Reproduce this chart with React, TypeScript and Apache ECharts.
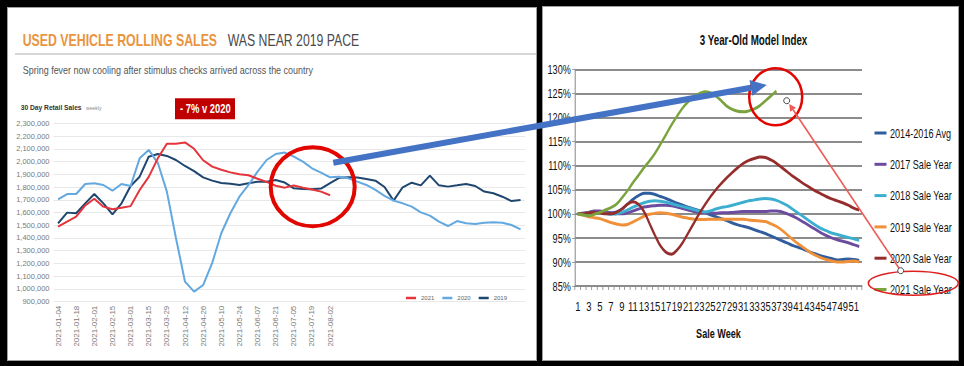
import React, { useEffect, useRef } from 'react';
import * as echarts from 'echarts';

// ---------- Left chart: 30 Day Retail Sales (weekly) ----------
const FIRST_WEEK_UTC = Date.UTC(2021, 0, 4);
const WEEK_COUNT = 52;
const LAST_LABELED_WEEK = '2021-08-02';
const weekDates: string[] = Array.from({ length: WEEK_COUNT }, (_, i) =>
  new Date(FIRST_WEEK_UTC + i * 7 * 86400000).toISOString().slice(0, 10)
);

const sales2021 = [
  1489000, 1528000, 1567000, 1655000, 1708000, 1646000, 1625000, 1638000, 1650000, 1777000,
  1880000, 2025000, 2140000, 2140000, 2150000, 2100000, 2010000, 1960000, 1935000, 1915000,
  1900000, 1892000, 1865000, 1840000, 1810000, 1795000, 1812000, 1795000, 1780000, 1764000,
  1735000,
];
const sales2020 = [
  1703000, 1745000, 1745000, 1824000, 1829000, 1816000, 1771000, 1824000, 1808000, 2025000,
  2091000, 1990000, 1764000, 1400000, 1057000, 979000, 1031000, 1205000, 1437000, 1594000,
  1724000, 1816000, 1921000, 2012000, 2059000, 2070000, 2038000, 1999000, 1947000, 1913000,
  1876000, 1881000, 1868000, 1842000, 1816000, 1777000, 1730000, 1693000, 1672000, 1646000,
  1601000, 1575000, 1528000, 1494000, 1533000, 1515000, 1510000, 1520000, 1523000, 1520000,
  1502000, 1468000,
];
const sales2019 = [
  1515000, 1599000, 1594000, 1672000, 1745000, 1672000, 1585000, 1672000, 1808000, 1881000,
  2038000, 2059000, 2044000, 2012000, 1965000, 1925000, 1876000, 1850000, 1832000, 1825000,
  1816000, 1830000, 1842000, 1842000, 1855000, 1835000, 1790000, 1785000, 1782000, 1788000,
  1830000, 1872000, 1877000, 1874000, 1863000, 1850000, 1800000, 1693000, 1798000, 1834000,
  1813000, 1889000, 1813000, 1803000, 1813000, 1824000, 1808000, 1764000, 1751000, 1724000,
  1690000, 1698000,
];
const salesSeriesNames = ['2021', '2020', '2019'];

// ---------- Right chart: 3 Year-Old Model Index ----------
const saleWeeks: string[] = Array.from({ length: 52 }, (_, i) => String(i + 1));
const idxAvg1416 = [
  100, 100.1, 100.3, 100.4, 100.4, 100.3, 100.2, 100.4, 101.0, 102.0,
  103.0, 103.8, 104.3, 104.3, 104.0, 103.6, 103.2, 102.7, 102.2, 101.8,
  101.4, 101.0, 100.7, 100.3, 99.8, 99.4, 99.0, 98.6, 98.1, 97.7,
  97.4, 97.1, 96.7, 96.3, 95.9, 95.4, 94.9, 94.4, 93.9, 93.4,
  93.0, 92.6, 92.1, 91.7, 91.3, 91.0, 90.7, 90.4, 90.5, 90.6,
  90.5, 90.3,
];
const idx2017 = [
  100, 100.1, 100.3, 100.6, 100.6, 100.4, 100.2, 100.0, 100.0, 100.2,
  100.6, 101.0, 101.4, 101.6, 101.7, 101.8, 101.8, 101.7, 101.4, 101.1,
  100.8, 100.5, 100.3, 100.2, 100.2, 100.1, 100.2, 100.2, 100.3, 100.4,
  100.5, 100.5, 100.5, 100.5, 100.5, 100.6, 100.6, 100.4, 100.0, 99.5,
  98.9, 98.2, 97.5, 96.8, 96.1, 95.5, 95.0, 94.6, 94.3, 94.0,
  93.6, 93.2,
];
const idx2018 = [
  100, 100, 100.1, 100.2, 100.3, 100.1, 99.9, 100.0, 100.3, 100.8,
  101.4, 101.9, 102.3, 102.6, 102.7, 102.6, 102.4, 102.1, 101.8, 101.5,
  101.2, 100.9, 100.6, 100.4, 100.6, 101.0, 101.3, 101.5, 101.8, 102.1,
  102.4, 102.7, 102.9, 103.1, 103.2, 103.1, 102.8, 102.3, 101.7, 100.9,
  100.1, 99.3, 98.5, 97.7, 97.0, 96.5, 96.0, 95.7, 95.4, 95.1,
  94.8, 94.5,
];
const idx2019 = [
  100, 99.7, 99.4, 99.2, 99.0, 98.6, 98.2, 97.9, 97.7, 97.8,
  98.3, 98.9, 99.5, 99.9, 100.1, 100.2, 100.1, 99.9, 99.6, 99.3,
  99.1, 98.9, 98.8, 98.8, 98.9, 98.9, 98.9, 98.9, 98.9, 98.9,
  98.9, 98.7, 98.6, 98.5, 98.4, 97.9, 97.4, 96.6, 95.6, 94.6,
  93.7, 92.9, 92.1, 91.4, 90.9, 90.5, 90.2, 90.0, 90.0, 90.1,
  90.2, 90.0,
];
const idx2020 = [
  100, 100, 100.2, 100.3, 100.2, 100.0, 100.0, 100.3, 101.0, 102.0,
  102.5, 102.0, 100.5, 98.0, 95.5, 93.3, 92.0, 91.6, 92.5, 94.0,
  96.0, 98.0, 100.0, 101.8, 103.5, 105.0, 106.3, 107.5, 108.6, 109.6,
  110.5, 111.1, 111.5, 111.8, 111.7, 111.2, 110.5, 109.6, 108.7, 107.8,
  107.0, 106.2, 105.5, 104.8, 104.2, 103.6, 103.1, 102.7, 102.3, 101.8,
  101.2, 100.8,
];
const idx2021 = [
  100, 99.8, 99.6, 99.9, 100.3, 100.8, 101.3, 102.0, 103.3, 104.8,
  106.5, 108.0, 109.6, 111.0, 112.6, 114.5, 116.5, 118.5, 120.3, 122.0,
  123.3, 124.3, 125.0, 125.4, 125.2, 124.5, 123.5, 122.4, 121.7, 121.3,
  121.2, 121.4, 121.8, 122.5, 123.5, 124.5, 125.5,
];
const indexSeriesNames = [
  '2014-2016 Avg', '2017 Sale Year', '2018 Sale Year', '2019 Sale Year', '2020 Sale Year', '2021 Sale Year',
];
const indexSeriesData = [idxAvg1416, idx2017, idx2018, idx2019, idx2020, idx2021];

// ---------- Styles ----------
const SANS = "'Liberation Sans', Arial, sans-serif";
const salesColors = ['#E5343A', '#63A9E0', '#1F466F'];
const indexColors = ['#305D9E', '#6B4C9E', '#3CAED0', '#F0913A', '#952D2D', '#7AA33E'];

// The right panel is drawn in its own chart, condensed horizontally like the original picture.
const RIGHT_X0 = 543;
const RIGHT_SCALE = 0.7;
const RIGHT_W = (964 - RIGHT_X0) / RIGHT_SCALE;
const rx = (X: number) => (X - RIGHT_X0) / RIGHT_SCALE;

function measure(text: string, size: number, weight: string, family: string) {
  const ctx = document.createElement('canvas').getContext('2d')!;
  ctx.font = `${weight} ${size}px ${family}`;
  return ctx.measureText(text).width;
}

function fitText(text: string, left: number, cy: number, width: number, size: number, weight: string, color: string, family = SANS) {
  const s = width / measure(text, size, weight, family);
  return {
    type: 'text', x: left, y: cy, scaleX: s, z: 20,
    style: {
      text, fontSize: size, fontWeight: weight, fontFamily: family, fill: color,
      align: 'left', verticalAlign: 'middle', textAlign: 'left', textVerticalAlign: 'middle',
    },
  };
}

function arrow(x1: number, y1: number, x2: number, y2: number, color: string, width: number, headLen: number, headHalf: number) {
  const dx = x2 - x1, dy = y2 - y1;
  const len = Math.hypot(dx, dy);
  const ux = dx / len, uy = dy / len;
  const nx = -uy, ny = ux;
  const bx = x2 - ux * headLen, by = y2 - uy * headLen;
  return [
    { type: 'line', z: 50, shape: { x1, y1, x2: bx, y2: by }, style: { stroke: color, lineWidth: width } },
    {
      type: 'polygon', z: 50,
      shape: { points: [[x2, y2], [bx + nx * headHalf, by + ny * headHalf], [bx - nx * headHalf, by - ny * headHalf]] },
      style: { fill: color },
    },
  ];
}

export default function App() {
  const mainRef = useRef<HTMLDivElement>(null);
  const rightRef = useRef<HTMLDivElement>(null);

  useEffect(() => {
    document.body.style.margin = '0';
    const right = echarts.init(rightRef.current!, undefined, { renderer: 'svg' });
    const main = echarts.init(mainRef.current!, undefined, { renderer: 'svg' });
    const lastIdx = weekDates.indexOf(LAST_LABELED_WEEK);

    // ----- right chart -----
    right.setOption({
      animation: false,
      title: {
        text: '3 Year-Old Model Index', left: rx(750), top: 28, textAlign: 'center',
        textStyle: { fontSize: 14, fontWeight: 'bold', color: '#111111', fontFamily: SANS },
      },
      grid: { left: rx(575), top: 69.5, width: 287 / RIGHT_SCALE, height: 216.5, containLabel: false, outerBoundsMode: 'none' },
      xAxis: {
        type: 'category', data: saleWeeks, boundaryGap: true,
        name: 'Sale Week', nameLocation: 'middle', nameGap: 41,
        nameTextStyle: { fontWeight: 'bold', fontSize: 13, fontFamily: SANS, color: '#111111' },
        axisLine: { show: true, lineStyle: { color: '#8C8C8C', width: 1.5 } },
        axisTick: { show: true, interval: 0, length: 4, lineStyle: { color: '#8C8C8C', width: 1.2 } },
        axisLabel: { interval: 1, fontSize: 13.5, color: '#111111', fontFamily: SANS, margin: 13 },
        splitLine: { show: false },
      },
      yAxis: {
        type: 'value', min: 85, max: 130, interval: 5,
        axisLine: { show: true, lineStyle: { color: '#8C8C8C', width: 1.5 } },
        axisTick: { show: true, length: 4, lineStyle: { color: '#8C8C8C' } },
        axisLabel: { formatter: '{value}%', fontSize: 13, color: '#111111', fontFamily: SANS, margin: 6 },
        splitLine: { lineStyle: { color: '#8C8C8C', width: 2 } },
      },
      legend: {
        data: indexSeriesNames, orient: 'vertical', left: rx(871), top: 121, itemWidth: 12 / RIGHT_SCALE, itemHeight: 3,
        icon: 'rect', itemGap: 17.3, selectedMode: false,
        textStyle: { fontSize: 13, color: '#111111', fontFamily: SANS, lineHeight: 14 },
      },
      series: indexSeriesData.map((d, i) => ({
        name: indexSeriesNames[i], type: 'line', data: d,
        showSymbol: false, smooth: 0.35,
        lineStyle: { width: 3, color: indexColors[i] }, itemStyle: { color: indexColors[i] },
      })),
    });

    // ----- left chart + annotations -----
    const salesSeries = [sales2021, sales2020, sales2019].map((d, i) => ({
      name: salesSeriesNames[i], type: 'line', data: d,
      showSymbol: false, smooth: false, z: 5 - i,
      lineStyle: { width: 2, color: salesColors[i] }, itemStyle: { color: salesColors[i] },
    }));

    const graphics: any[] = [
      fitText('USED VEHICLE ROLLING SALES', 22.7, 40.5, 194.6, 16, 'bold', '#E9943F'),
      fitText('WAS NEAR 2019 PACE', 227.7, 40.5, 131.6, 16, 'normal', '#4A4A4A'),
      { type: 'line', z: 20, shape: { x1: 15, y1: 54, x2: 536, y2: 54 }, style: { stroke: '#C8C8C8', lineWidth: 1.5 } },
      fitText('Spring fever now cooling after stimulus checks arrived across the country', 22.7, 70, 290.6, 11, 'normal', '#555555'),
      fitText('30 Day Retail Sales', 20.7, 107.5, 61, 8, 'bold', '#333333'),
      fitText('weekly', 86, 107.5, 15.5, 5.5, 'normal', '#8A8A8A'),
      { type: 'rect', z: 20, shape: { x: 175, y: 98.3, width: 60, height: 21 }, style: { fill: '#C00000' } },
      fitText('- 7% v 2020', 180, 108.8, 50.7, 12, 'bold', '#FFFFFF'),
      // annotations
      { type: 'ellipse', z: 40, shape: { cx: 312.7, cy: 186.7, rx: 42, ry: 39.5 }, style: { fill: 'none', stroke: '#E10600', lineWidth: 4 } },
      { type: 'ellipse', z: 40, shape: { cx: 775.7, cy: 96.7, rx: 26.5, ry: 28.5 }, style: { fill: 'none', stroke: '#E10600', lineWidth: 2.5 } },
      { type: 'ellipse', z: 40, shape: { cx: 913.3, cy: 283.3, rx: 45, ry: 12 }, style: { fill: 'none', stroke: '#E02020', lineWidth: 1.5 } },
      ...arrow(333.3, 162.7, 766.7, 85, '#4472C4', 6, 16, 8),
      ...arrow(900.7, 270.7, 789.2, 104, '#EE5A55', 1.6, 7, 3.5),
      { type: 'circle', z: 60, shape: { cx: 786.7, cy: 100.7, r: 3 }, style: { fill: '#FFFFFF', stroke: '#444444', lineWidth: 1 } },
      { type: 'circle', z: 60, shape: { cx: 900.7, cy: 270.7, r: 3 }, style: { fill: '#FFFFFF', stroke: '#444444', lineWidth: 1 } },
    ];

    main.setOption({
      animation: false,
      grid: { left: 53.5, top: 123.3, width: 471.6, height: 178.4, containLabel: false, outerBoundsMode: 'none' },
      xAxis: {
        type: 'category', data: weekDates, boundaryGap: true,
        axisLine: { show: false }, axisTick: { show: false }, splitLine: { show: false },
        axisLabel: {
          interval: 1, rotate: 90, fontSize: 8, color: '#7A7A7A', fontFamily: SANS, margin: 4,
          formatter: (v: string, i: number) => (i <= lastIdx ? v : ''),
        },
      },
      yAxis: {
        type: 'value', min: 900000, max: 2300000, interval: 100000,
        axisLine: { show: false }, axisTick: { show: false },
        axisLabel: {
          fontSize: 7.5, color: '#7A7A7A', fontFamily: SANS, margin: 4,
          formatter: (v: number) => v.toLocaleString('en-US'),
        },
        splitLine: { lineStyle: { color: '#E8E8E8', width: 1 } },
      },
      legend: {
        data: salesSeriesNames, left: 401, top: 290, itemWidth: 10, itemHeight: 2.5, icon: 'rect',
        itemGap: 8, selectedMode: false,
        textStyle: { fontSize: 6, color: '#666666', fontFamily: SANS },
      },
      series: salesSeries,
      graphic: graphics,
    });

    return () => {
      main.dispose();
      right.dispose();
    };
  }, []);

  return (
    <div style={{ position: 'fixed', left: 0, top: 0, width: 964, height: 366, background: '#000000', overflow: 'hidden' }}>
      <div style={{ position: 'absolute', left: 7, top: 7, width: 530, height: 354, background: '#FFFFFF', border: '1px solid #A0A0A0', boxSizing: 'border-box' }} />
      <div style={{ position: 'absolute', left: 542, top: 6, width: 417, height: 355, background: '#FFFFFF', border: '1px solid #A0A0A0', boxSizing: 'border-box' }} />
      <div
        ref={rightRef}
        style={{
          position: 'absolute', left: RIGHT_X0, top: 0, width: RIGHT_W, height: 366,
          transform: `scaleX(${RIGHT_SCALE})`, transformOrigin: '0 0',
        }}
      />
      <div ref={mainRef} style={{ position: 'absolute', left: 0, top: 0, width: 964, height: 366 }} />
    </div>
  );
}
